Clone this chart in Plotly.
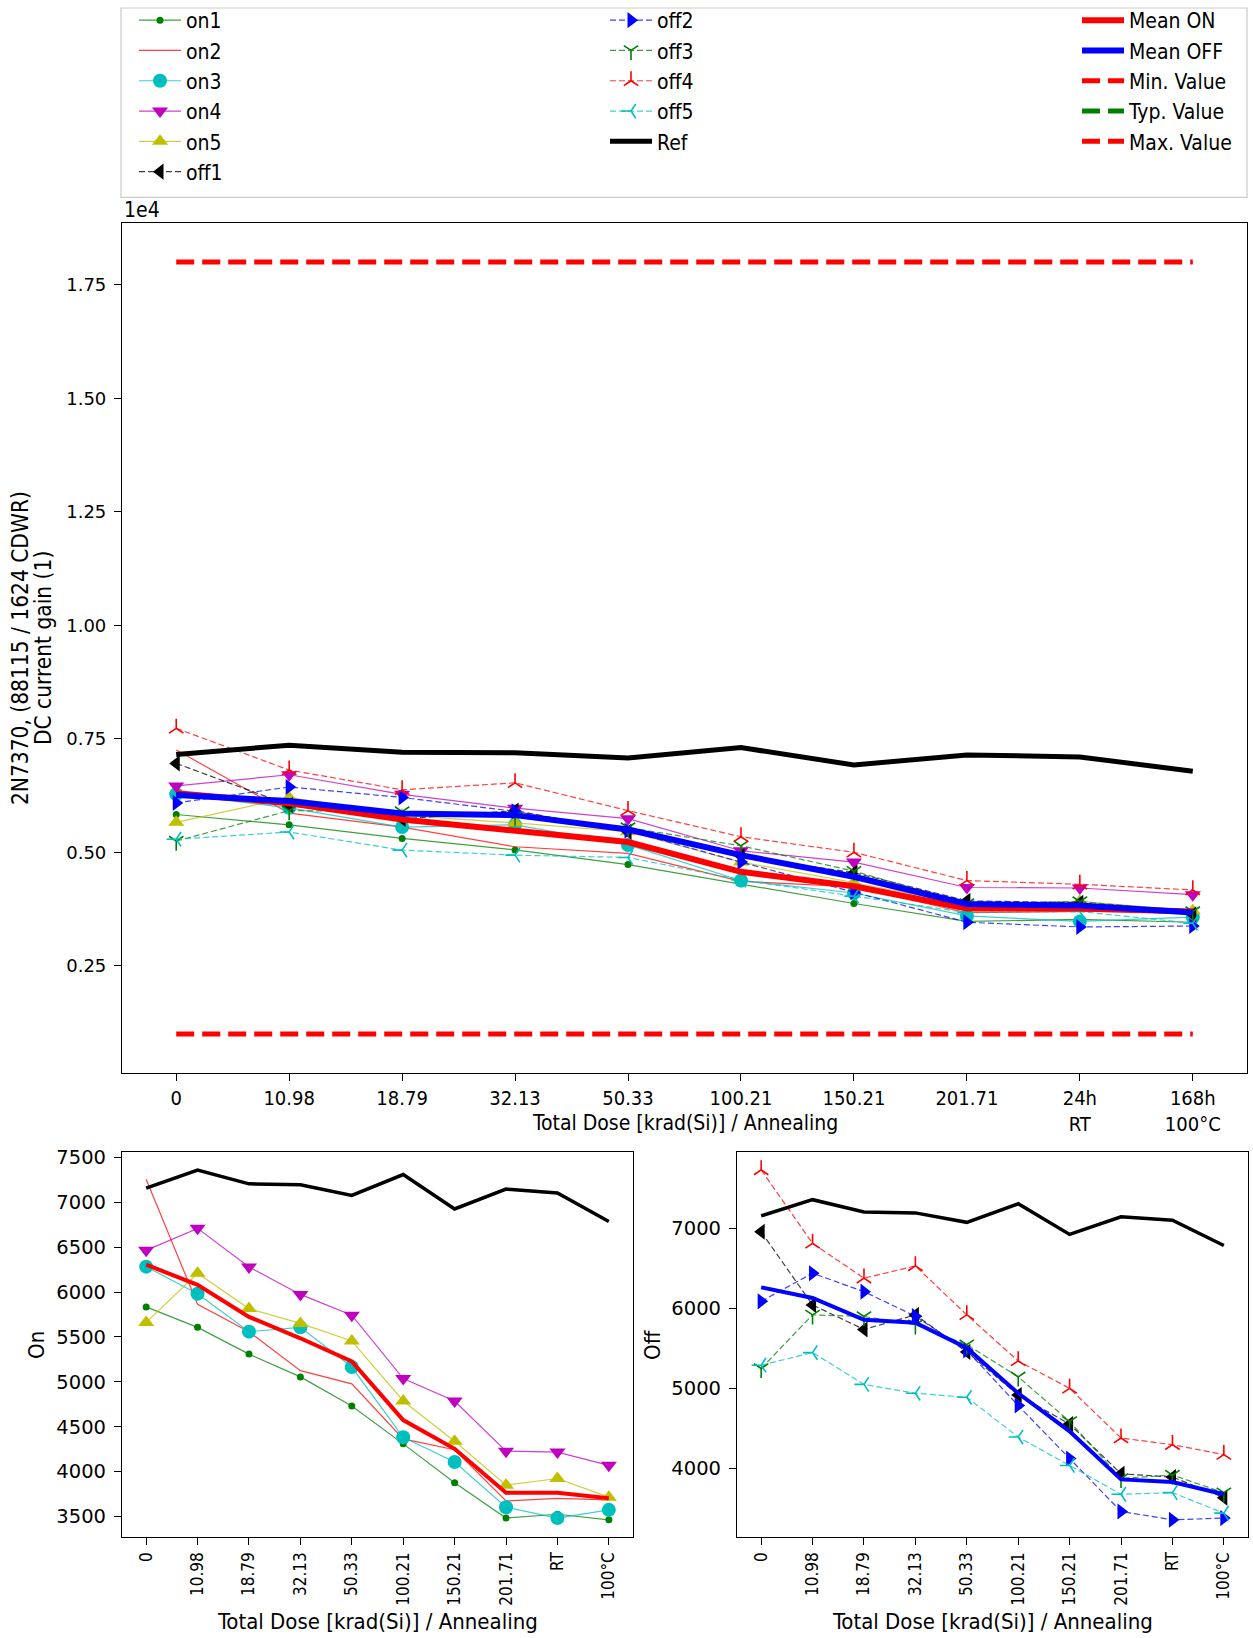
import plotly.graph_objects as go

# ---------------- data ----------------
steps = ["0", "10.98", "18.79", "32.13", "50.33", "100.21", "150.21", "201.71", "24h RT", "168h 100°C"]
ticks_main = ["0", "10.98", "18.79", "32.13", "50.33", "100.21", "150.21", "201.71", "24h<br>RT", "168h<br>100°C"]
ticks_small = ["0", "10.98", "18.79", "32.13", "50.33", "100.21", "150.21", "201.71", "RT", "100°C"]

on1 = [5835, 5607, 5309, 5055, 4732, 4309, 3875, 3482, 3525, 3463]
on2 = [7257, 5864, 5559, 5125, 4978, 4364, 4243, 3673, 3702, 3684]
on3 = [6283, 5982, 5559, 5607, 5165, 4382, 4107, 3603, 3482, 3574]
on4 = [6465, 6710, 6280, 5974, 5743, 5037, 4787, 4228, 4217, 4070]
on5 = [5662, 6210, 5816, 5651, 5456, 4787, 4338, 3849, 3923, 3715]
mean_on = [6305, 6081, 5724, 5485, 5228, 4574, 4254, 3765, 3765, 3702]

off1 = [6959, 6044, 5738, 5920, 5457, 4919, 4555, 3934, 3893, 3636]
off2 = [6090, 6441, 6210, 5904, 5477, 4787, 4125, 3463, 3359, 3380]
off3 = [5250, 5920, 5900, 5796, 5548, 5146, 4588, 3876, 3918, 3698]
off4 = [7732, 6814, 6379, 6532, 5920, 5345, 5002, 4381, 4298, 4174]
off5 = [5291, 5449, 5051, 4940, 4890, 4393, 4038, 3678, 3698, 3442]
mean_off = [6264, 6131, 5858, 5821, 5506, 4940, 4464, 3864, 3831, 3678]

ref = [7158, 7360, 7206, 7195, 7077, 7309, 6926, 7147, 7103, 6787]
min_value = [1000, 1000, 1000, 1000, 1000, 1000, 1000, 1000, 1000, 1000]
typ_value = [None, None, None, None, None, None, None, None, None, None]
max_value = [18000, 18000, 18000, 18000, 18000, 18000, 18000, 18000, 18000, 18000]

main_yticks = [2500, 5000, 7500, 10000, 12500, 15000, 17500]
main_yticktext = ["0.25", "0.50", "0.75", "1.00", "1.25", "1.50", "1.75"]
on_yticks = [3500, 4000, 4500, 5000, 5500, 6000, 6500, 7000, 7500]
off_yticks = [4000, 5000, 6000, 7000]

# ---------------- styles ----------------
G, R, C, M, Y, K, B = "#008000", "#ff0000", "#00bfbf", "#bf00bf", "#bfbf00", "#000000", "#0000ff"


def rgba(hexc, a):
    h = hexc.lstrip("#")
    return "rgba(%d,%d,%d,%.2f)" % (int(h[0:2], 16), int(h[2:4], 16), int(h[4:6], 16), a)


series = [
    # name, data, color, dash, symbol, msize, legend
    ("on1", on1, G, "solid", "circle", 7, "legend"),
    ("on2", on2, R, "solid", None, 0, "legend"),
    ("on3", on3, C, "solid", "circle", 14, "legend"),
    ("on4", on4, M, "solid", "triangle-down", 14, "legend"),
    ("on5", on5, Y, "solid", "triangle-up", 14, "legend"),
    ("off1", off1, K, "6px,3px", "triangle-left", 14, "legend"),
    ("off2", off2, B, "6px,3px", "triangle-right", 14, "legend2"),
    ("off3", off3, G, "6px,3px", "y-down", 12, "legend2"),
    ("off4", off4, R, "6px,3px", "y-up", 12, "legend2"),
    ("off5", off5, C, "6px,3px", "y-left", 12, "legend2"),
]

COND = "DejaVu Sans Condensed, Liberation Sans Narrow, DejaVu Sans, sans-serif"
NORM = "DejaVu Sans, sans-serif"

fig = go.Figure()


def add_series(s, xa, ya, showlegend):
    name, data, col, dash, sym, ms, leg = s
    kw = dict(x=steps, y=data, name=name, xaxis=xa, yaxis=ya, showlegend=showlegend,
              legend=leg, line=dict(color=rgba(col, 0.75), width=1.2, dash=dash))
    if sym is None:
        kw["mode"] = "lines"
    else:
        kw["mode"] = "lines+markers"
        if sym.startswith("y-"):
            kw["marker"] = dict(symbol=sym, size=ms, color=col, line=dict(color=col, width=1.6))
        else:
            kw["marker"] = dict(symbol=sym, size=ms, color=col, line=dict(width=0))
    fig.add_trace(go.Scatter(**kw))


# main plot
for s in series:
    add_series(s, "x", "y", True)
fig.add_trace(go.Scatter(x=steps, y=ref, name="Ref", mode="lines", legend="legend2",
                         line=dict(color=K, width=5), xaxis="x", yaxis="y"))
fig.add_trace(go.Scatter(x=steps, y=mean_on, name="Mean ON", mode="lines", legend="legend3",
                         line=dict(color=R, width=6), xaxis="x", yaxis="y"))
fig.add_trace(go.Scatter(x=steps, y=mean_off, name="Mean OFF", mode="lines", legend="legend3",
                         line=dict(color=B, width=6), xaxis="x", yaxis="y"))
fig.add_trace(go.Scatter(x=steps, y=min_value, name="Min. Value", mode="lines", legend="legend3",
                         line=dict(color=R, width=5, dash="18px,8px"), xaxis="x", yaxis="y"))
fig.add_trace(go.Scatter(x=steps, y=typ_value, name="Typ. Value", mode="lines", legend="legend3",
                         line=dict(color=G, width=5, dash="18px,8px"), xaxis="x", yaxis="y"))
fig.add_trace(go.Scatter(x=steps, y=max_value, name="Max. Value", mode="lines", legend="legend3",
                         line=dict(color=R, width=5, dash="18px,8px"), xaxis="x", yaxis="y"))

# bottom-left: ON
for s in series[:5]:
    add_series(s, "x2", "y2", False)
fig.add_trace(go.Scatter(x=steps, y=mean_on, mode="lines", showlegend=False,
                         line=dict(color=R, width=4), xaxis="x2", yaxis="y2"))
fig.add_trace(go.Scatter(x=steps, y=ref, mode="lines", showlegend=False,
                         line=dict(color=K, width=3.5), xaxis="x2", yaxis="y2"))

# bottom-right: OFF
for s in series[5:]:
    add_series(s, "x3", "y3", False)
fig.add_trace(go.Scatter(x=steps, y=mean_off, mode="lines", showlegend=False,
                         line=dict(color=B, width=4), xaxis="x3", yaxis="y3"))
fig.add_trace(go.Scatter(x=steps, y=ref, mode="lines", showlegend=False,
                         line=dict(color=K, width=3.5), xaxis="x3", yaxis="y3"))

W, H = 1253, 1638


def px(xp):
    return xp / W


def py(yp):
    return 1 - yp / H


axis_common = dict(showline=True, linecolor="black", linewidth=1.2, mirror=True,
                   ticks="outside", ticklen=7, tickwidth=1.2, tickcolor="black",
                   showgrid=False, zeroline=False)

legend_common = dict(yanchor="top", xanchor="left", orientation="v", itemwidth=42,
                     bgcolor="rgba(0,0,0,0)", borderwidth=0,
                     font=dict(family=COND, size=21))

fig.update_layout(
    width=W, height=H, autosize=False,
    margin=dict(l=0, r=0, t=0, b=0),
    paper_bgcolor="white", plot_bgcolor="white",
    font=dict(family=COND, size=20, color="black"),
    xaxis=dict(domain=[px(122), px(1247)], anchor="y", type="category",
               range=[-0.48, 9.48], tickvals=steps, ticktext=ticks_main,
               tickfont=dict(family=COND, size=20), **axis_common),
    yaxis=dict(domain=[py(1071), py(219)], anchor="x", range=[150, 18850],
               tickvals=main_yticks, ticktext=main_yticktext, ticklabelstandoff=4,
               tickfont=dict(family=NORM, size=18), **axis_common),
    xaxis2=dict(domain=[px(122), px(633)], anchor="y2", type="category",
                range=[-0.47, 9.47], tickvals=steps, ticktext=ticks_small, tickangle=-90,
                tickfont=dict(family=COND, size=17), **axis_common),
    yaxis2=dict(domain=[py(1537), py(1151)], anchor="x2", range=[3268, 7555],
                tickvals=on_yticks, ticklabelstandoff=4,
                tickfont=dict(family=NORM, size=19.5), **axis_common),
    xaxis3=dict(domain=[px(737), px(1248)], anchor="y3", type="category",
                range=[-0.47, 9.47], tickvals=steps, ticktext=ticks_small, tickangle=-90,
                tickfont=dict(family=COND, size=17), **axis_common),
    yaxis3=dict(domain=[py(1537), py(1151)], anchor="x3", range=[3140, 7950],
                tickvals=off_yticks, ticklabelstandoff=4,
                tickfont=dict(family=NORM, size=19.5), **axis_common),
    legend=dict(x=px(134), y=py(-5.5), **legend_common),
    legend2=dict(x=px(605), y=py(-5.5), **legend_common),
    legend3=dict(x=px(1077), y=py(-5.5), **legend_common),
    shapes=[dict(type="rect", xref="paper", yref="paper",
                 x0=px(121), x1=px(1247), y0=py(193), y1=py(3),
                 line=dict(color="#cccccc", width=1.2), fillcolor="rgba(0,0,0,0)", layer="below")],
    annotations=[
        dict(text="1e4", xref="paper", yref="paper", x=px(122), y=py(206), xanchor="left",
             yanchor="middle", showarrow=False, font=dict(family=COND, size=21)),
        dict(text="2N7370, (88115 / 1624 CDWR)", xref="paper", yref="paper",
             x=px(20), y=py(645), xanchor="center", yanchor="middle", textangle=-90,
             showarrow=False, font=dict(family=COND, size=22.5)),
        dict(text="DC current gain (1)", xref="paper", yref="paper",
             x=px(43), y=py(645), xanchor="center", yanchor="middle", textangle=-90,
             showarrow=False, font=dict(family=COND, size=22.5)),
        dict(text="Total Dose [krad(Si)] / Annealing", xref="paper", yref="paper",
             x=px(684.5), y=py(1121), xanchor="center", yanchor="middle", showarrow=False,
             font=dict(family=COND, size=21)),
        dict(text="On", xref="paper", yref="paper", x=px(37), y=py(1344), xanchor="center",
             yanchor="middle", textangle=-90, showarrow=False, font=dict(family=COND, size=22)),
        dict(text="Off", xref="paper", yref="paper", x=px(653), y=py(1344), xanchor="center",
             yanchor="middle", textangle=-90, showarrow=False, font=dict(family=COND, size=22)),
        dict(text="Total Dose [krad(Si)] / Annealing", xref="paper", yref="paper",
             x=px(377.5), y=py(1621), xanchor="center", yanchor="middle", showarrow=False,
             font=dict(family=COND, size=22)),
        dict(text="Total Dose [krad(Si)] / Annealing", xref="paper", yref="paper",
             x=px(992.5), y=py(1621), xanchor="center", yanchor="middle", showarrow=False,
             font=dict(family=COND, size=22)),
    ],
)

fig.write_html("out.html", config={"displayModeBar": False},
               post_script="document.body.style.margin='0px';document.body.style.overflow='hidden';")
